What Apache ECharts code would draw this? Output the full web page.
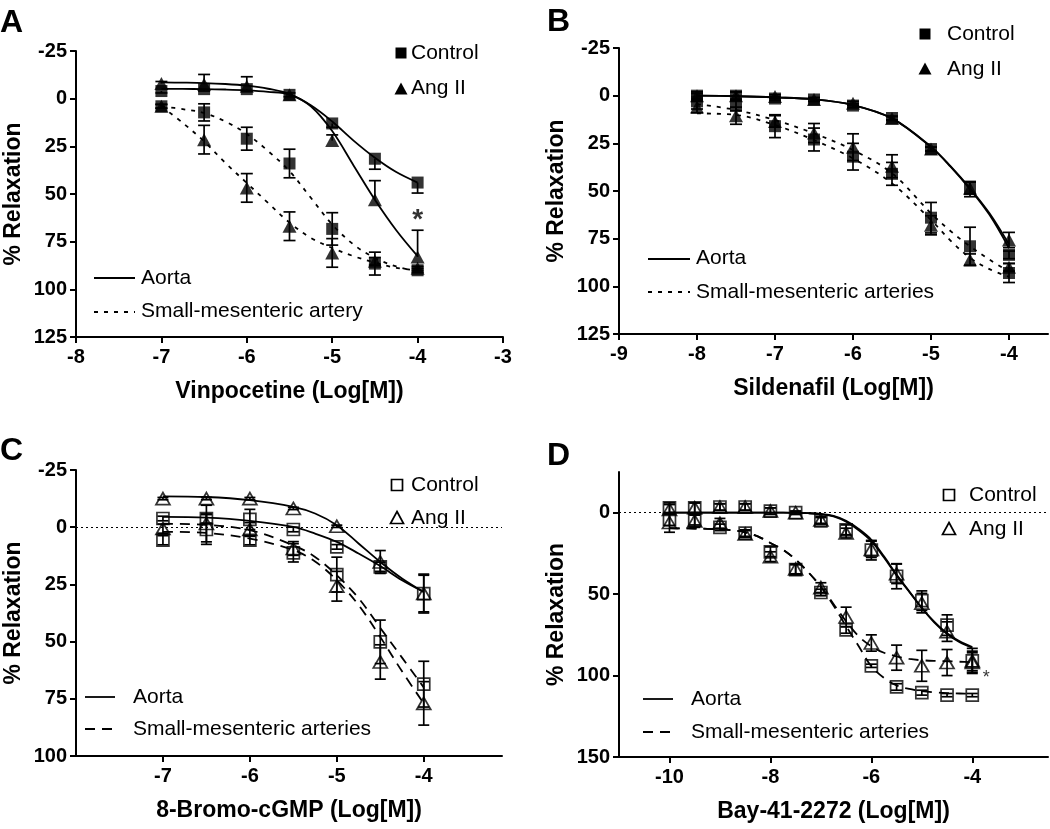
<!DOCTYPE html>
<html><head><meta charset="utf-8">
<script src="https://cdn.jsdelivr.net/npm/echarts@6/dist/echarts.min.js"></script>
<style>html,body{margin:0;padding:0;background:#fff}#c{width:1050px;height:829px}</style>
</head><body><div id="c"></div><script>
const FONT = "'Liberation Sans', Arial, Helvetica, sans-serif";

// ---------- Panel A : Vinpocetine ----------
const aX = [-7, -6.5, -6, -5.5, -5, -4.5, -4];
const aAortaCtl = [-4, -5, -5, -2, 13, 31.5, 44];
const aAortaCtlErr = [1, 1, 1, 1, 2, 5.5, 5.5];
const aAortaAng = [-8, -7.5, -6.5, -2, 22, 53, 83];
const aAortaAngErr = [1, 5.2, 5, 1, 3, 10, 14];
const aSmaCtl = [4, 7.2, 21, 34, 68.3, 86.5, 90];
const aSmaCtlErr = [1, 4.5, 6, 7.5, 8.5, 6, 1];
const aSmaAng = [4, 21.5, 46.8, 66.9, 80.9, 85.3, 89];
const aSmaAngErr = [1, 7.5, 7.5, 7.5, 7.5, 2, 1];
const aCurveX = [-7, -6.75, -6.5, -6.25, -6, -5.75, -5.5, -5.25, -5, -4.75, -4.5, -4.25, -4];
const aFitAortaCtl = [-5.1, -5.1, -5, -4.8, -4.4, -3.6, -2.2, 3.5, 12, 22, 31, 38.5, 44];
const aFitAortaAng = [-8.5, -8.4, -8.2, -7.7, -6.8, -5.2, -2.4, 4, 17, 35, 53, 69, 82.6];
const aFitSmaCtl = [4, 5.5, 7.5, 12, 18.5, 27.5, 38, 52, 66, 76.5, 83.5, 88, 90.5];
const aFitSmaAng = [4, 12.7, 22.4, 33.7, 44.2, 54.7, 65, 73, 78.3, 82.6, 86, 88.7, 90];
const aXTicks = [-8, -7, -6, -5, -4, -3];
const aYTicks = [-25, 0, 25, 50, 75, 100, 125];
const aStar = [[-4, 61]];

// ---------- Panel B : Sildenafil ----------
const bX = [-8, -7.5, -7, -6.5, -6, -5.5, -5, -4.5, -4];
const bAortaCtl = [0, 0, 1.5, 2, 5.2, 11.7, 28, 49, 83.5];
const bAortaCtlErr = [2, 2, 1, 1, 1, 1, 1, 4, 2];
const bAortaAng = [0, 0, 0.5, 2, 4, 12, 28, 48.5, 75.7];
const bAortaAngErr = [2, 2, 1, 1, 1, 1, 1, 3, 4];
const bSmaCtl = [3, 5, 16, 23, 32, 41, 64, 79, 93];
const bSmaCtlErr = [4, 3, 6, 6, 7, 6, 8, 10, 5];
const bSmaAng = [6, 10.5, 13.5, 19.6, 27, 37, 68, 86, 90];
const bSmaAngErr = [3, 4.5, 3, 5, 7, 6, 5, 3, 2];
const bCurveX = [-8, -7.5, -7, -6.5, -6, -5.5, -5, -4.75, -4.5, -4.25, -4];
const bFitAortaCtl = [0, 0.3, 0.9, 1.9, 4.9, 11.9, 27, 37.2, 49, 62.5, 80];
const bFitAortaAng = [0, 0.3, 0.9, 1.9, 4.9, 11.9, 26.7, 37, 48.6, 61.7, 78];
const bFitSmaCtl = [4.4, 7.5, 12.8, 19.8, 28.5, 40.7, 61.7, 71, 79, 86, 92.3];
const bFitSmaAng = [9.3, 10.1, 15.4, 23.3, 32.9, 46, 65.2, 76, 85, 91, 95];
const bXTicks = [-9, -8, -7, -6, -5, -4];
const bYTicks = [-25, 0, 25, 50, 75, 100, 125];

// ---------- Panel C : 8-Bromo-cGMP ----------
const cX = [-7, -6.5, -6, -5.5, -5, -4.5, -4];
const cAortaCtl = [-3.8, -3.8, -3.4, 1, 8.6, 17.3, 29];
const cAortaCtlErr = [1, 2, 4.4, 1, 1, 2, 8.5];
const cAortaAng = [-12.5, -12.5, -12.5, -8.2, -0.4, 15.2, 29];
const cAortaAngErr = [0.5, 0.5, 0.5, 0.5, 0.5, 5, 8];
const cSmaCtl = [5.7, 1, 5.7, 11.2, 20.7, 50.1, 68.6];
const cSmaCtlErr = [2, 6.5, 2, 4, 7.6, 9.5, 10];
const cSmaAng = [0.6, -1.6, 1, 9.3, 25.8, 58.9, 77];
const cSmaAngErr = [2, 8, 3, 3, 6.5, 7.5, 9.5];
const cCurveX = [-7, -6.5, -6, -5.5, -5.25, -5, -4.75, -4.5, -4.25, -4];
const cFitAortaCtl = [-4.5, -4.2, -2.8, -0.1, 2.8, 6.4, 11.5, 17, 23.2, 28.3];
const cFitAortaAng = [-13.5, -13.2, -11.8, -8.9, -6, -0.9, 7.1, 15.2, 22.4, 28.3];
const cFitSmaCtl = [-1.5, -1, 1.3, 7.9, 13, 21, 31, 44, 57, 70];
const cFitSmaAng = [2, 2.5, 5, 10, 15, 23.2, 34, 48, 63, 77];
const cXTicks = [-7, -6, -5, -4];
const cYTicks = [-25, 0, 25, 50, 75, 100];

// ---------- Panel D : Bay-41-2272 ----------
const dX = [-10, -9.5, -9, -8.5, -8, -7.5, -7, -6.5, -6, -5.5, -5, -4.5, -4];
const dAortaCtl = [-3, -3, -3.5, -3.5, -1, 0, 5, 10.5, 23, 39, 54, 69, 91];
const dAortaCtlErr = [3, 3, 2, 2, 2, 1, 2, 3, 6, 7.7, 6, 6.3, 7.7];
const dAortaAng = [-2, -3, -3.5, -3.5, -1, 0, 4.5, 12.5, 22.5, 37.5, 55.5, 73, 91];
const dAortaAngErr = [3, 3, 2, 2, 2, 1, 2, 3, 5, 6, 6, 6, 6];
const dSmaCtl = [4, 4.5, 9, 12.5, 24, 35, 49, 72, 94, 107, 110.5, 112, 112];
const dSmaCtlErr = [4, 3, 2, 2, 3, 3, 2, 2, 1, 2, 1.5, 1, 1];
const dSmaAng = [6, 5, 6.5, 13, 27, 34.5, 46, 64, 80, 89, 94, 92, 92];
const dSmaAngErr = [6, 4, 3, 2, 3, 3, 3, 6, 5, 7.7, 9.5, 8, 6];
const dCurveX = [-10, -9.75, -9.5, -9.25, -9, -8.75, -8.5, -8.25, -8, -7.75, -7.5, -7.25, -7, -6.75, -6.5, -6.25, -6, -5.75, -5.5, -5.25, -5, -4.75, -4.5, -4.25, -4];
const dFitAortaCtl = [0, 0, 0, 0, 0, 0, 0, 0, 0, 0, 0.1, 0.3, 0.8, 2, 5, 10, 16.6, 26.8, 38, 48.3, 58.5, 67.5, 74.5, 79.5, 83];
const dFitAortaAng = [0, 0, 0, 0, 0, 0, 0, 0, 0, 0, 0.1, 0.3, 0.9, 2.3, 5.6, 10.8, 17.5, 27.5, 38.5, 48.5, 58.5, 67, 74, 79, 82.5];
const dFitSmaCtl = [9.5, 9.6, 9.7, 9.9, 10.2, 10.8, 12, 14.5, 18.6, 22.7, 28.8, 36.5, 45.5, 57, 69.7, 82, 94.3, 101.4, 106, 108.2, 109.5, 110.3, 110.8, 111, 111.2];
const dFitSmaAng = [9.5, 9.6, 9.7, 9.9, 10.2, 10.8, 12, 14.5, 18.6, 22.7, 28.8, 36.5, 45.5, 56, 66.7, 75.9, 82, 86, 88.2, 89.8, 90.6, 91, 91.2, 91.5, 91.8];
const dXTicks = [-10, -8, -6, -4];
const dYTicks = [0, 50, 100, 150];
const dStar = [[-4, 99]];

const xNames = ['Vinpocetine (Log[M])', 'Sildenafil (Log[M])', '8-Bromo-cGMP (Log[M])', 'Bay-41-2272 (Log[M])'];
const yName = '% Relaxation';

// ---------- layout ----------
const grids = [
  {left: 76, top: 51, width: 427, height: 286},
  {left: 619, top: 48, width: 429, height: 286},
  {left: 76, top: 470, width: 426, height: 286},
  {left: 619, top: 472, width: 429, height: 285}
];
const xRanges = [[-8, -3], [-9, -3.5], [-8, -3.1], [-11, -2.5]];
const yRanges = [[-25, 125], [-25, 125], [-25, 100], [-25, 150]];
const xTickSets = [aXTicks, bXTicks, cXTicks, dXTicks];
const yTickSets = [aYTicks, bYTicks, cYTicks, dYTicks];

const lbl = {color: '#000', fontWeight: 'bold', fontSize: 20, fontFamily: FONT};
const nameStyle = {color: '#000', fontWeight: 'bold', fontSize: 23, fontFamily: FONT};

const xAxes = grids.map((g, i) => ({
  gridIndex: i, type: 'value', min: xRanges[i][0], max: xRanges[i][1],
  axisLine: {onZero: false, lineStyle: {color: '#000', width: 2}},
  axisTick: {show: true, length: 6, lineStyle: {color: '#000', width: 2}, customValues: xTickSets[i]},
  axisLabel: Object.assign({margin: 10, customValues: xTickSets[i]}, lbl),
  splitLine: {show: false},
  name: xNames[i], nameLocation: 'middle', nameGap: 43, nameTextStyle: nameStyle
}));
const yAxes = grids.map((g, i) => ({
  gridIndex: i, type: 'value', inverse: true, min: yRanges[i][0], max: yRanges[i][1],
  axisLine: {show: true, onZero: false, lineStyle: {color: '#000', width: 2}},
  axisTick: {show: true, length: 6, lineStyle: {color: '#000', width: 2}, customValues: yTickSets[i]},
  axisLabel: Object.assign({margin: 9, customValues: yTickSets[i]}, lbl),
  splitLine: {show: false},
  name: yName, nameLocation: 'middle', nameGap: 51, nameRotate: 90, nameTextStyle: nameStyle
}));

// ---------- series builders ----------
function fit(gi, xs, ys, dash, zeroLine) {
  const s = {
    type: 'line', xAxisIndex: gi, yAxisIndex: gi, silent: true, z: 2,
    data: xs.map((x, i) => [x, ys[i]]), smooth: 0.35, showSymbol: false, symbol: 'none',
    lineStyle: {color: '#000', width: 1.8, type: dash}
  };
  if (zeroLine) {
    s.markLine = {silent: true, symbol: 'none', label: {show: false},
      lineStyle: {type: [2, 3], color: '#000', width: 1.2}, data: [{yAxis: 0}]};
  }
  return s;
}
function errs(gi, xs, ys, es, dir, hw) {
  return {
    type: 'custom', xAxisIndex: gi, yAxisIndex: gi, silent: true, z: 3,
    data: xs.map((x, i) => [x, ys[i], es[i]]),
    renderItem: function (params, api) {
      const x = api.value(0), y = api.value(1), e = api.value(2);
      const lo = dir === 'down' ? y : y - e;
      const hi = dir === 'up' ? y : y + e;
      const p1 = api.coord([x, lo]), p2 = api.coord([x, hi]);
      const st = {stroke: '#000', lineWidth: 1.7, fill: null};
      const kids = [{type: 'line', shape: {x1: p1[0], y1: p1[1], x2: p2[0], y2: p2[1]}, style: st}];
      if (dir !== 'down') kids.push({type: 'line', shape: {x1: p1[0] - hw, y1: p1[1], x2: p1[0] + hw, y2: p1[1]}, style: st});
      if (dir !== 'up') kids.push({type: 'line', shape: {x1: p2[0] - hw, y1: p2[1], x2: p2[0] + hw, y2: p2[1]}, style: st});
      return {type: 'group', children: kids};
    }
  };
}
function marks(gi, xs, ys, sym, filled) {
  const isTri = sym === 'triangle';
  return {
    type: 'scatter', xAxisIndex: gi, yAxisIndex: gi, silent: true, z: 4,
    data: xs.map((x, i) => [x, ys[i]]), symbol: sym,
    symbolSize: isTri ? (filled ? [14, 13] : [14, 12]) : (filled ? 12 : 12),
    itemStyle: filled ? {color: '#000', borderWidth: 0}
                      : {color: 'rgba(0,0,0,0)', borderColor: '#000', borderWidth: 1.7}
  };
}
function star(gi, pts, size, bold, dx, dy) {
  return {
    type: 'scatter', xAxisIndex: gi, yAxisIndex: gi, silent: true, z: 5,
    data: pts, symbolSize: 0,
    label: {show: true, position: 'inside', formatter: '*', color: '#000', fontSize: size,
      fontWeight: bold ? 'bold' : 'normal', fontFamily: FONT, offset: [dx, dy]}
  };
}

const shortDash = [4, 6];
const longDash = [10, 7];
const series = [
  // A
  fit(0, aCurveX, aFitAortaCtl, 'solid'), fit(0, aCurveX, aFitAortaAng, 'solid'),
  fit(0, aCurveX, aFitSmaCtl, shortDash), fit(0, aCurveX, aFitSmaAng, shortDash),
  errs(0, aX, aAortaCtl, aAortaCtlErr, 'down', 6), errs(0, aX, aAortaAng, aAortaAngErr, 'up', 6),
  errs(0, aX, aSmaCtl, aSmaCtlErr, 'both', 6), errs(0, aX, aSmaAng, aSmaAngErr, 'both', 6),
  marks(0, aX, aAortaCtl, 'rect', true), marks(0, aX, aAortaAng, 'triangle', true),
  marks(0, aX, aSmaCtl, 'rect', true), marks(0, aX, aSmaAng, 'triangle', true),
  star(0, aStar, 28, true, 0, 5),
  // B
  fit(1, bCurveX, bFitAortaCtl, 'solid'), fit(1, bCurveX, bFitAortaAng, 'solid'),
  fit(1, bCurveX, bFitSmaCtl, shortDash), fit(1, bCurveX, bFitSmaAng, shortDash),
  errs(1, bX, bAortaCtl, bAortaCtlErr, 'both', 6), errs(1, bX, bAortaAng, bAortaAngErr, 'both', 6),
  errs(1, bX, bSmaCtl, bSmaCtlErr, 'both', 6), errs(1, bX, bSmaAng, bSmaAngErr, 'both', 6),
  marks(1, bX, bAortaCtl, 'rect', true), marks(1, bX, bAortaAng, 'triangle', true),
  marks(1, bX, bSmaCtl, 'rect', true), marks(1, bX, bSmaAng, 'triangle', true),
  // C
  fit(2, cCurveX, cFitAortaCtl, 'solid', true), fit(2, cCurveX, cFitAortaAng, 'solid'),
  fit(2, cCurveX, cFitSmaCtl, longDash), fit(2, cCurveX, cFitSmaAng, longDash),
  errs(2, cX, cAortaCtl, cAortaCtlErr, 'both', 5.5), errs(2, cX, cAortaAng, cAortaAngErr, 'both', 5.5),
  errs(2, cX, cSmaCtl, cSmaCtlErr, 'both', 5.5), errs(2, cX, cSmaAng, cSmaAngErr, 'both', 5.5),
  marks(2, cX, cAortaCtl, 'rect', false), marks(2, cX, cAortaAng, 'triangle', false),
  marks(2, cX, cSmaCtl, 'rect', false), marks(2, cX, cSmaAng, 'triangle', false),
  // D
  fit(3, dCurveX, dFitAortaCtl, 'solid', true), fit(3, dCurveX, dFitAortaAng, 'solid'),
  fit(3, dCurveX, dFitSmaCtl, longDash), fit(3, dCurveX, dFitSmaAng, longDash),
  errs(3, dX, dAortaCtl, dAortaCtlErr, 'both', 5.5), errs(3, dX, dAortaAng, dAortaAngErr, 'both', 5.5),
  errs(3, dX, dSmaCtl, dSmaCtlErr, 'both', 5.5), errs(3, dX, dSmaAng, dSmaAngErr, 'both', 5.5),
  marks(3, dX, dAortaCtl, 'rect', false), marks(3, dX, dAortaAng, 'triangle', false),
  marks(3, dX, dSmaCtl, 'rect', false), marks(3, dX, dSmaAng, 'triangle', false),
  star(3, dStar, 18, false, 14, 4)
];

// ---------- legends & panel letters (graphics) ----------
function txt(x, y, s, size, bold) {
  return {type: 'text', x: x, y: y, silent: true,
    style: {text: s, fill: '#000', fontSize: size, fontWeight: bold ? 'bold' : 'normal', fontFamily: FONT, verticalAlign: 'middle', align: 'left'}};
}
function sq(cx, cy, filled) {
  return {type: 'rect', silent: true, shape: {x: cx - 5.5, y: cy - 5.5, width: 11, height: 11},
    style: filled ? {fill: '#000'} : {fill: null, stroke: '#000', lineWidth: 1.7}};
}
function tri(cx, cy, filled) {
  return {type: 'polygon', silent: true, shape: {points: [[cx, cy - 6.5], [cx + 6.5, cy + 5.5], [cx - 6.5, cy + 5.5]]},
    style: filled ? {fill: '#000'} : {fill: null, stroke: '#000', lineWidth: 1.7}};
}
function seg(x1, x2, y, dash) {
  return {type: 'line', silent: true, shape: {x1: x1, y1: y, x2: x2, y2: y},
    style: {stroke: '#000', lineWidth: 1.8, lineDash: dash}};
}
const graphics = [
  txt(0, 23, 'A', 32, true), txt(547, 22, 'B', 32, true), txt(0, 451, 'C', 32, true), txt(547, 456, 'D', 32, true),
  // A
  sq(401, 53, true), txt(411, 53, 'Control', 21), tri(401, 89, true), txt(411, 88, 'Ang II', 21),
  seg(94, 135, 278, null), txt(141, 278, 'Aorta', 21),
  seg(94, 135, 312, shortDash), txt(141, 311, 'Small-mesenteric artery', 21),
  // B
  sq(925, 34, true), txt(947, 34, 'Control', 21), tri(925, 69, true), txt(947, 69, 'Ang II', 21),
  seg(648, 690, 259, null), txt(696, 258, 'Aorta', 21),
  seg(648, 690, 292, shortDash), txt(696, 292, 'Small-mesenteric arteries', 21),
  // C
  sq(397, 485, false), txt(411, 485, 'Control', 21), tri(397, 518, false), txt(411, 518, 'Ang II', 21),
  seg(85, 115, 697, null), txt(133, 697, 'Aorta', 21),
  seg(85, 115, 729, longDash), txt(133, 729, 'Small-mesenteric arteries', 21),
  // D
  sq(949, 495, false), txt(969, 495, 'Control', 21), tri(949, 529, false), txt(969, 529, 'Ang II', 21),
  seg(643, 673, 699, null), txt(691, 699, 'Aorta', 21),
  seg(643, 673, 732, longDash), txt(691, 732, 'Small-mesenteric arteries', 21)
];

const chart = echarts.init(document.getElementById('c'), null, {renderer: 'canvas'});
chart.setOption({
  backgroundColor: '#fff',
  animation: false,
  textStyle: {fontFamily: FONT},
  grid: grids.map(g => Object.assign({containLabel: false, outerBoundsMode: 'none'}, g)),
  xAxis: xAxes,
  yAxis: yAxes,
  series: series,
  graphic: {elements: graphics}
});
</script></body></html>
